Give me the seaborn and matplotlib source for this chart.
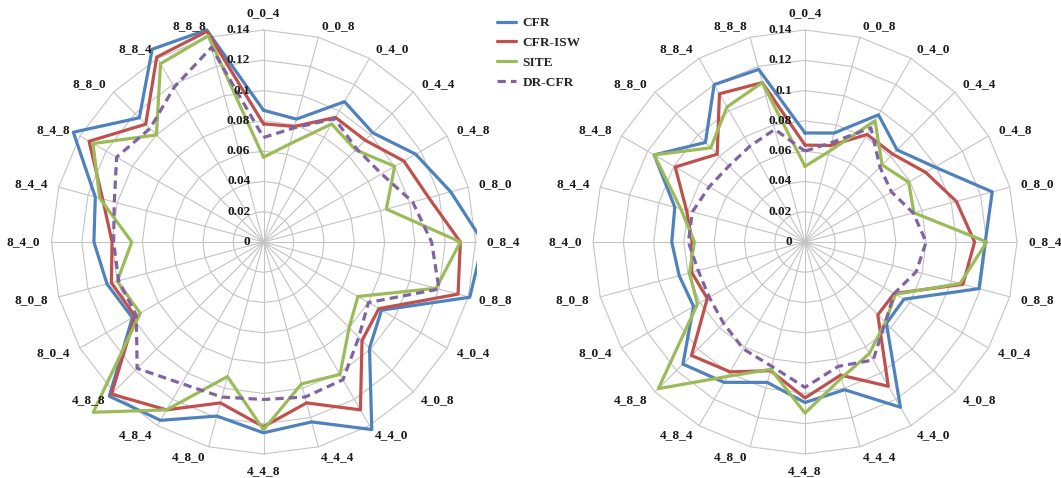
import numpy as np
import pandas as pd
import matplotlib.pyplot as plt
import seaborn as sns
from matplotlib.lines import Line2D
from matplotlib.transforms import Bbox, TransformedBbox

# categories, clockwise from the top
categories = ['0_0_4', '0_0_8', '0_4_0', '0_4_4', '0_4_8', '0_8_0', '0_8_4', '0_8_8',
              '4_0_4', '4_0_8', '4_4_0', '4_4_4', '4_4_8', '4_8_0', '4_8_4', '4_8_8',
              '8_0_4', '8_0_8', '8_4_0', '8_4_4', '8_4_8', '8_8_0', '8_8_4', '8_8_8']
series_names = ['CFR', 'CFR-ISW', 'SITE', 'DR-CFR']
radial_ticks = [0, 0.02, 0.04, 0.06, 0.08, 0.1, 0.12, 0.14]
radial_labels = ['0', '0.02', '0.04', '0.06', '0.08', '0.1', '0.12', '0.14']

# left chart
left_cfr = [0.087, 0.084, 0.107, 0.102, 0.116, 0.128, 0.145, 0.141, 0.090, 0.099, 0.143, 0.123,
            0.126, 0.119, 0.136, 0.144, 0.100, 0.107, 0.112, 0.115, 0.145, 0.116, 0.147, 0.145]
left_isw = [0.078, 0.079, 0.095, 0.095, 0.107, 0.113, 0.130, 0.133, 0.088, 0.092, 0.128, 0.110,
            0.122, 0.110, 0.128, 0.142, 0.098, 0.104, 0.100, 0.110, 0.133, 0.110, 0.141, 0.144]
left_site = [0.056, 0.067, 0.090, 0.086, 0.100, 0.084, 0.130, 0.118, 0.072, 0.080, 0.101, 0.097,
             0.124, 0.092, 0.128, 0.159, 0.094, 0.100, 0.087, 0.112, 0.130, 0.100, 0.136, 0.141]
left_dr = [0.069, 0.078, 0.094, 0.087, 0.090, 0.102, 0.111, 0.120, 0.080, 0.089, 0.105, 0.106,
           0.104, 0.106, 0.108, 0.118, 0.097, 0.099, 0.099, 0.102, 0.112, 0.106, 0.118, 0.133]

# right chart
right_cfr = [0.072, 0.0745, 0.097, 0.086, 0.099, 0.128, 0.119, 0.119, 0.0755, 0.076, 0.126, 0.101,
             0.106, 0.096, 0.107, 0.114, 0.085, 0.086, 0.088, 0.089, 0.115, 0.093, 0.120, 0.118]
right_isw = [0.064, 0.066, 0.082, 0.082, 0.092, 0.1035, 0.112, 0.108, 0.068, 0.068, 0.110, 0.091,
             0.103, 0.088, 0.099, 0.106, 0.0745, 0.0775, 0.0745, 0.081, 0.099, 0.082, 0.113, 0.109]
right_site = [0.050, 0.062, 0.0925, 0.072, 0.079, 0.0745, 0.120, 0.106, 0.069, 0.075, 0.085, 0.093,
              0.113, 0.087, 0.1025, 0.137, 0.082, 0.079, 0.073, 0.085, 0.115, 0.088, 0.103, 0.109]
right_dr = [0.060, 0.068, 0.087, 0.070, 0.066, 0.074, 0.080, 0.076, 0.068, 0.075, 0.090, 0.085,
            0.096, 0.085, 0.0815, 0.076, 0.073, 0.073, 0.077, 0.077, 0.073, 0.071, 0.073, 0.077]

colors = {'CFR': '#4F81BD', 'CFR-ISW': '#C0504D', 'SITE': '#9BBB59', 'DR-CFR': '#8064A2'}
dashes = {'CFR': '', 'CFR-ISW': '', 'SITE': '', 'DR-CFR': (2.6, 1.6)}

sns.set_theme(style='white')
plt.rcParams['font.family'] = ['Liberation Serif', 'DejaVu Serif']
plt.rcParams['font.weight'] = 'bold'

W, H = 1061, 478
fig = plt.figure(figsize=(W / 100, H / 100), dpi=100)

R14 = 212.0          # pixels for 0.14
RMAX = 0.165
rad_px = R14 * RMAX / 0.14
grid_col = '#c4c4c4'
FS = 9.6

n = len(categories)
theta = np.deg2rad(np.arange(n) * 360.0 / n)
theta_closed = np.append(theta, theta[0] + 2 * np.pi)


def radar(cx, cy, values, clip_right=None):
    ax = fig.add_axes([(cx - rad_px) / W, (H - cy - rad_px) / H, 2 * rad_px / W, 2 * rad_px / H],
                      projection='polar')
    ax.set_theta_zero_location('N')
    ax.set_theta_direction(-1)
    ax.set_ylim(0, RMAX)
    ax.grid(False)
    ax.spines['polar'].set_visible(False)
    ax.set_xticks([])
    ax.set_yticks([])
    ax.patch.set_alpha(0)

    # polygon grid and spokes
    for lev in radial_ticks[1:]:
        ax.plot(theta_closed, [lev] * len(theta_closed), color=grid_col, lw=0.8, zorder=1)
    for t in theta:
        ax.plot([t, t], [0, 0.14], color=grid_col, lw=0.8, zorder=1)

    rows = []
    for name, vals in zip(series_names, values):
        closed = list(vals) + [vals[0]]
        for t, v in zip(theta_closed, closed):
            rows.append({'theta': t, 'value': v, 'series': name})
    df = pd.DataFrame(rows)
    before = len(ax.lines)
    sns.lineplot(data=df, x='theta', y='value', hue='series', style='series',
                 hue_order=series_names, style_order=series_names, palette=colors,
                 dashes=dashes, sort=False, estimator=None, linewidth=2.3,
                 legend=False, ax=ax, zorder=3)
    if clip_right is not None:
        box = TransformedBbox(Bbox([[0, 0], [clip_right / W, 1]]), fig.transFigure)
        for ln in ax.lines[before:]:
            ln.set_clip_box(box)
    ax.set_xlabel('')
    ax.set_ylabel('')

    # category labels
    r_lab = 0.1473
    for t, lab in zip(theta, categories):
        s, c = np.sin(t), np.cos(t)
        ha = 'left' if s > 0.01 else ('right' if s < -0.01 else 'center')
        va = 'center'
        if abs(s) < 0.01:
            va = 'bottom' if c > 0 else 'top'
        ax.text(t, r_lab, lab, ha=ha, va=va, fontsize=FS, fontweight='bold', color='#1a1a1a')

    # radial tick labels
    for v, lab in zip(radial_ticks, radial_labels):
        ax.annotate(lab, xy=(0, v), xytext=(-9.5, 0), textcoords='offset points',
                    ha='right', va='center', fontsize=FS, fontweight='bold', color='#1a1a1a')
    return ax


radar(263.5, 242, [left_cfr, left_isw, left_site, left_dr], clip_right=477)
radar(805, 242, [right_cfr, right_isw, right_site, right_dr])

handles = [Line2D([], [], color=colors[s], lw=2.3,
                  dashes=dashes[s] if dashes[s] else (None, None)) for s in series_names]
fig.legend(handles, series_names, loc='upper left', bbox_to_anchor=(497 / W, 1 - 17 / H),
           frameon=False, borderaxespad=0, borderpad=0, handlelength=1.4,
           handletextpad=0.5, labelspacing=0.56, prop={'size': FS, 'weight': 'bold'})

fig.savefig('out.png', dpi=100)
